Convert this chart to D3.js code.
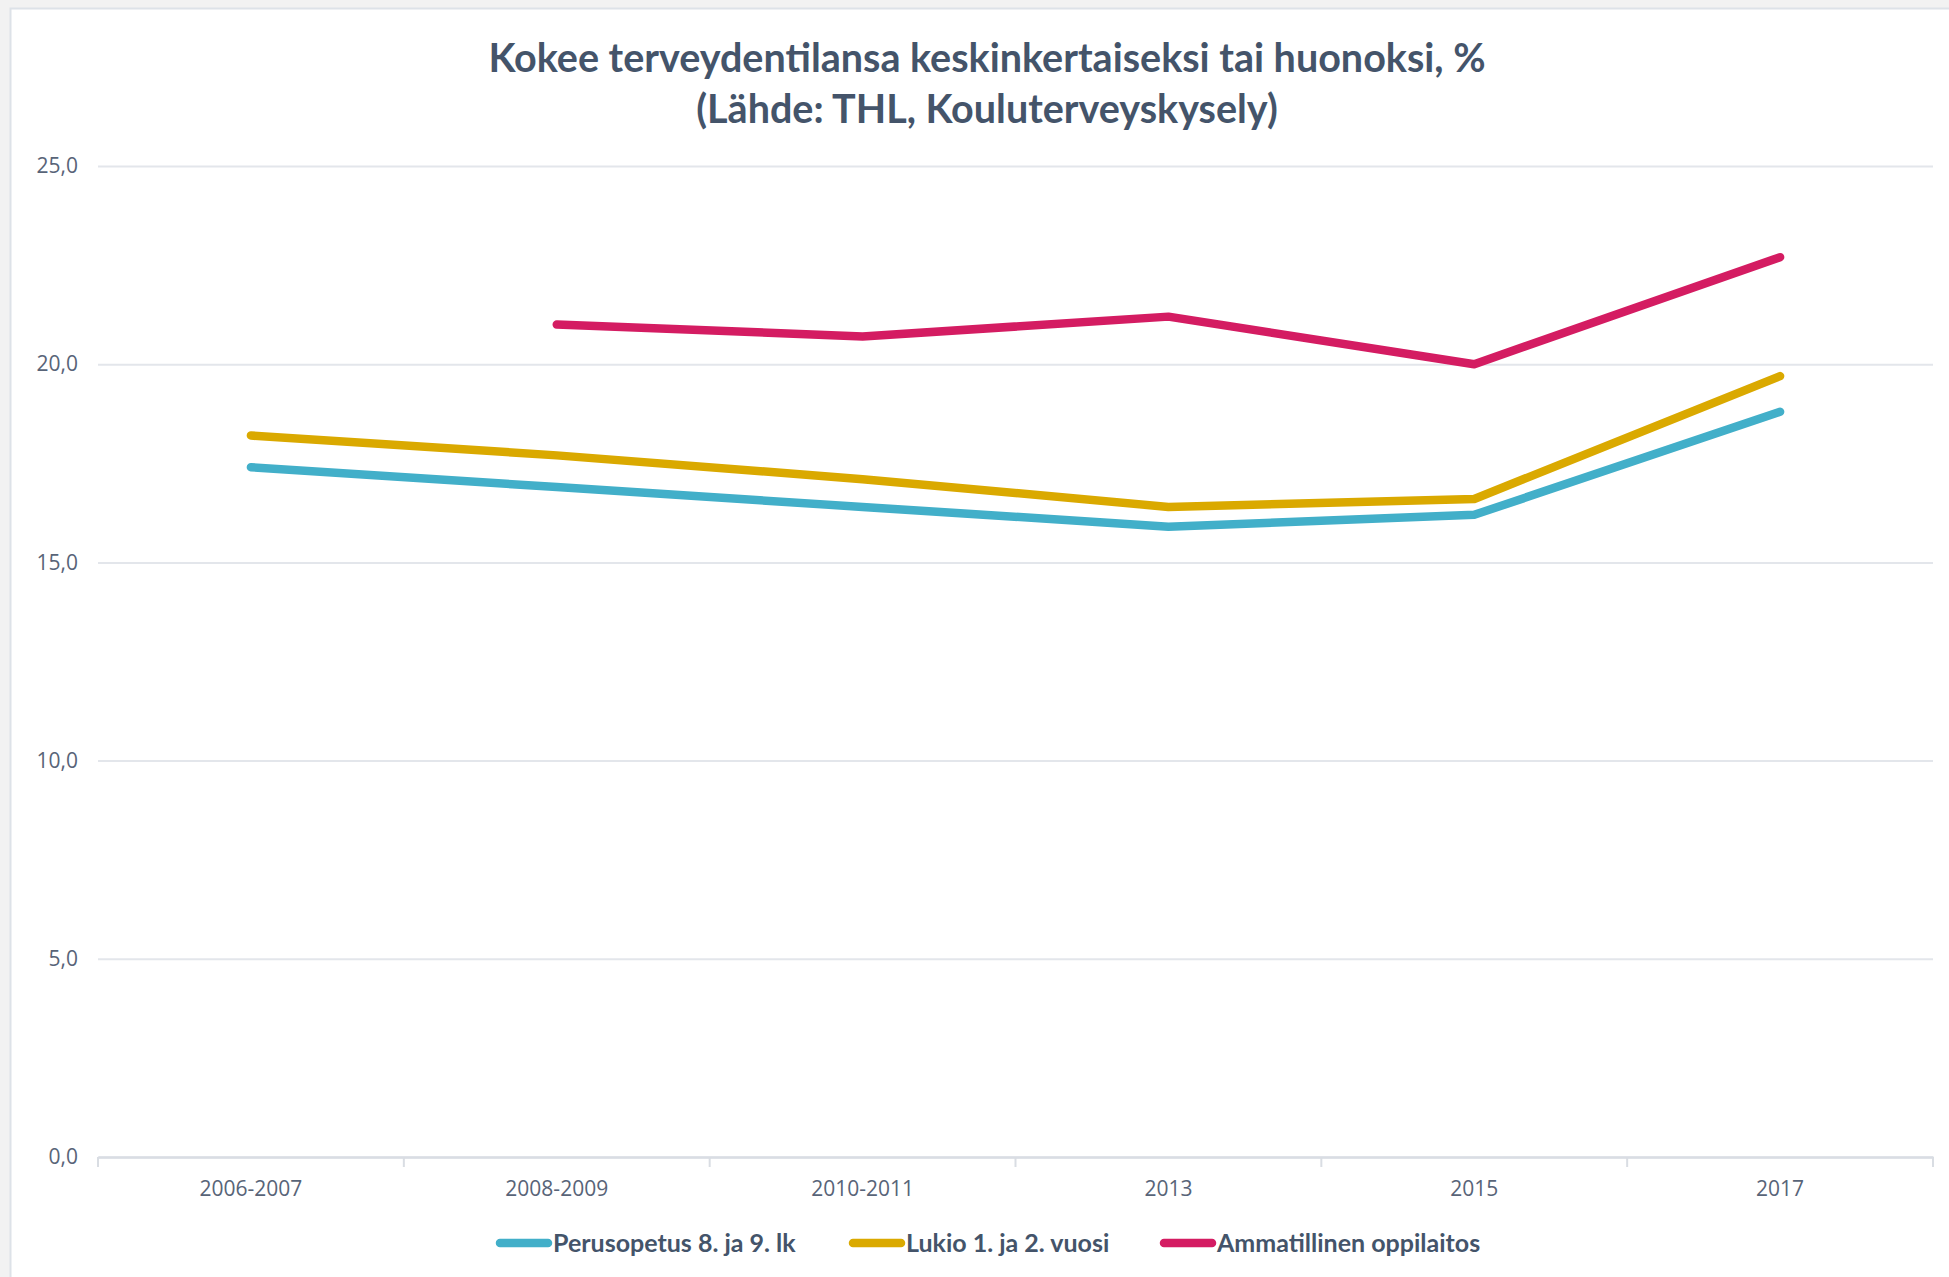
<!DOCTYPE html>
<html>
<head>
<meta charset="utf-8">
<script src="https://cdn.jsdelivr.net/npm/d3@7"></script>
<style>
  html, body { margin: 0; padding: 0; background: #f2f2f2; }
  svg { display: block; }
</style>
</head>
<body>
<script>
// ---- data ----
const categories = ["2006-2007", "2008-2009", "2010-2011", "2013", "2015", "2017"];
const perusopetus = [17.4, 16.9, 16.4, 15.9, 16.2, 18.8];
const lukio = [18.2, 17.7, 17.1, 16.4, 16.6, 19.7];
const ammatillinen = [null, 21.0, 20.7, 21.2, 20.0, 22.7];
const seriesNames = ["Perusopetus 8. ja 9. lk", "Lukio 1. ja 2. vuosi", "Ammatillinen oppilaitos"];
const seriesColors = ["#42AFC9", "#DAA900", "#D41C62"];
const yTicks = [0, 5, 10, 15, 20, 25];
const titleLines = ["Kokee terveydentilansa keskinkertaiseksi tai huonoksi, %", "(Lähde: THL, Kouluterveyskysely)"];

const W = 1949, H = 1277;
const plot = { left: 98, right: 1933, top: 166, bottom: 1157 };

const svg = d3.select("body").append("svg").attr("width", W).attr("height", H);

// panel
svg.append("rect").attr("x", 10.5).attr("y", 8.5).attr("width", W).attr("height", H)
  .attr("fill", "#ffffff").attr("stroke", "#dde2e8").attr("stroke-width", 2);

const x = d3.scaleBand().domain(categories).range([plot.left, plot.right]).padding(0);
const y = d3.scaleLinear().domain([0, 25]).range([plot.bottom, plot.top]);

const fmt = v => d3.format(".1f")(v).replace(".", ",");

// gridlines + y labels
const yAxis = d3.axisLeft(y).tickValues(yTicks).tickFormat(fmt)
  .tickSize(-(plot.right - plot.left)).tickPadding(20);
const gy = svg.append("g").attr("transform", `translate(${plot.left},0)`).call(yAxis);
gy.select(".domain").remove();
gy.selectAll(".tick line").attr("stroke", "#e3e6eb").attr("stroke-width", 2);
gy.selectAll(".tick text").attr("font-family", "Open Sans, sans-serif").attr("font-size", 21)
  .attr("fill", "#586478");

// x axis
const xAxis = d3.axisBottom(x).tickSize(0).tickPadding(24);
const gx = svg.append("g").attr("transform", `translate(0,${plot.bottom})`).call(xAxis);
gx.select(".domain").attr("stroke", "#d9dde3").attr("stroke-width", 2.5);
gx.selectAll(".tick text").attr("font-family", "Open Sans, sans-serif").attr("font-size", 21)
  .attr("fill", "#586478");
// boundary ticks
const bounds = categories.map(c => x(c)).concat([x(categories[categories.length - 1]) + x.bandwidth()]);
gx.selectAll(".btick").data(bounds).enter().append("line")
  .attr("x1", d => d).attr("x2", d => d).attr("y1", 0).attr("y2", 10)
  .attr("stroke", "#d9dde3").attr("stroke-width", 2);

// lines
const allSeries = [perusopetus, lukio, ammatillinen];
const line = d3.line()
  .defined(d => d.v != null)
  .x(d => x(d.c) + x.bandwidth() / 2)
  .y(d => y(d.v));
allSeries.forEach((s, i) => {
  const pts = categories.map((c, j) => ({ c, v: s[j] }));
  svg.append("path").datum(pts).attr("d", line)
    .attr("fill", "none").attr("stroke", seriesColors[i]).attr("stroke-width", 8.5)
    .attr("stroke-linecap", "round").attr("stroke-linejoin", "round");
});

// title
svg.append("g").selectAll("text").data(titleLines).enter().append("text")
  .attr("x", 987).attr("y", (d, i) => 71.5 + i * 51.5)
  .attr("text-anchor", "middle")
  .attr("font-family", "Lato, sans-serif").attr("font-weight", "bold").attr("font-size", 39.5)
  .attr("fill", "#44546A")
  .text(d => d);

// legend
const legendX = [496, 849, 1160];
const legendY = 1243;
const lg = svg.append("g");
seriesNames.forEach((n, i) => {
  lg.append("line").attr("x1", legendX[i] + 4).attr("x2", legendX[i] + 52)
    .attr("y1", legendY).attr("y2", legendY)
    .attr("stroke", seriesColors[i]).attr("stroke-width", 8.5).attr("stroke-linecap", "round");
  lg.append("text").attr("x", legendX[i] + 57).attr("y", legendY + 9)
    .attr("font-family", "Lato, sans-serif").attr("font-weight", "bold").attr("font-size", 25)
    .attr("fill", "#44546A").text(n);
});
</script>
</body>
</html>
